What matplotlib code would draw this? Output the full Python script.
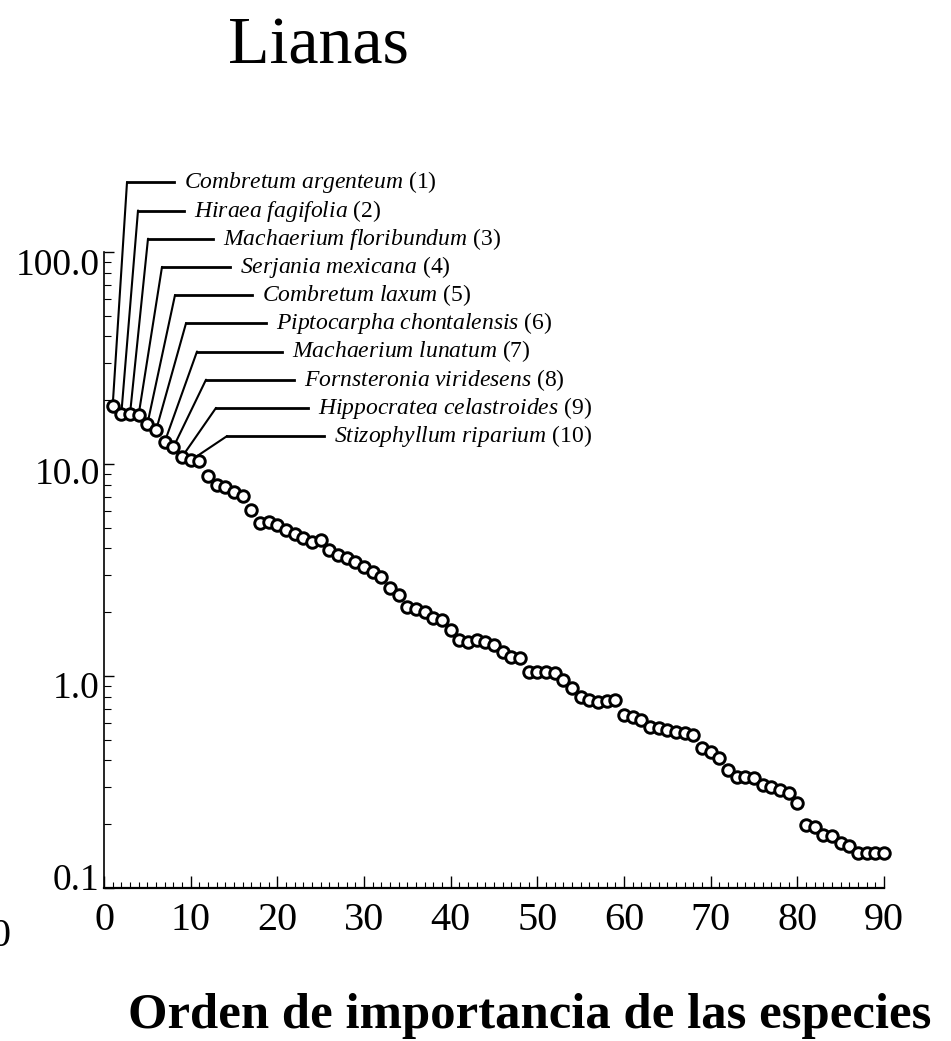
import numpy as np
import matplotlib
matplotlib.use("Agg")
import matplotlib.pyplot as plt
from matplotlib.patches import ConnectionPatch
from matplotlib.ticker import MultipleLocator, LogLocator, NullFormatter
from matplotlib.transforms import ScaledTranslation

plt.rcParams['font.family'] = ['Liberation Serif', 'DejaVu Serif']
plt.rcParams['mathtext.fontset'] = 'custom'
plt.rcParams['mathtext.rm'] = 'Liberation Serif'
plt.rcParams['mathtext.it'] = 'Liberation Serif:italic'

# ---------------------------------------------------------------
# DATOS
# ---------------------------------------------------------------
RANGO = list(range(1, 91))
VALOR = [18.8, 17.3, 17.2, 17.1, 15.4, 14.4, 12.7, 12.0, 10.8, 10.4,
         10.3, 8.8, 8.0, 7.8, 7.35, 7.1, 6.07, 5.29, 5.34, 5.16,
         4.88, 4.68, 4.46, 4.30, 4.38, 3.93, 3.72, 3.59, 3.46, 3.28,
         3.10, 2.92, 2.59, 2.41, 2.12, 2.06, 2.01, 1.87, 1.84, 1.65,
         1.48, 1.45, 1.48, 1.45, 1.40, 1.30, 1.23, 1.21, 1.05, 1.05,
         1.05, 1.03, 0.957, 0.875, 0.80, 0.77, 0.756, 0.76, 0.77, 0.655,
         0.639, 0.62, 0.577, 0.567, 0.556, 0.546, 0.540, 0.527, 0.456, 0.439,
         0.409, 0.360, 0.335, 0.335, 0.329, 0.306, 0.300, 0.290, 0.280, 0.251,
         0.198, 0.195, 0.178, 0.175, 0.163, 0.157, 0.146, 0.146, 0.146, 0.146]

ESPECIES = ["Combretum argenteum", "Hiraea fagifolia", "Machaerium floribundum",
            "Serjania mexicana", "Combretum laxum", "Piptocarpha chontalensis",
            "Machaerium lunatum", "Fornsteronia viridesens",
            "Hippocratea celastroides", "Stizophyllum riparium"]

YTICKS = [0.1, 1.0, 10.0, 100.0]
YTICK_LABELS = ["0.1", "1.0", "10.0", "100.0"]
XTICKS = list(range(0, 100, 10))

# ---------------------------------------------------------------
# LAYOUT (pixeles de la figura)
# ---------------------------------------------------------------
W, H = 951, 1041
LABEL_TOP = 182.3
LABEL_STEP = 28.2
CODO_X = [127, 138, 148, 162, 175, 186, 197, 206, 216, 227]
TEXTO_X = [184, 194, 223, 240, 262, 276, 292, 304, 318, 334]


def fx(px):
    return px / W


def fy(py):
    return 1 - py / H


fig = plt.figure(figsize=(W / 100, H / 100), dpi=100)
ax = fig.add_axes([fx(104), fy(888), 780 / W, 636 / H])

ax.plot(RANGO, VALOR, 'o', ms=8.3, mfc='white', mec='black', mew=2.1,
        zorder=3, clip_on=False)

ax.set_yscale('log')
ax.set_xlim(0, 90)
ax.set_ylim(0.1, 100)

ax.set_xticks(XTICKS)
ax.set_xticklabels([str(t) for t in XTICKS])
ax.xaxis.set_minor_locator(MultipleLocator(1))
ax.set_yticks(YTICKS)
ax.set_yticklabels(YTICK_LABELS)
ax.yaxis.set_minor_locator(LogLocator(base=10, subs=range(2, 10), numticks=20))
ax.yaxis.set_minor_formatter(NullFormatter())

ax.tick_params(axis='x', which='major', direction='in', length=9, width=1,
               labelsize=29, pad=10)
ax.tick_params(axis='x', which='minor', direction='in', length=4.5, width=0.8)
ax.tick_params(axis='y', which='major', direction='in', length=7.5, width=1,
               labelsize=27, pad=3)
ax.tick_params(axis='y', which='minor', direction='in', length=5, width=0.8)

for side in ['top', 'right']:
    ax.spines[side].set_visible(False)
ax.spines['left'].set_linewidth(1.2)
ax.spines['bottom'].set_linewidth(1.6)

# desplazamiento de las etiquetas del eje y
for lbl, dy in zip(ax.get_yticklabels(), [8, -6, -5, -7]):
    lbl.set_transform(lbl.get_transform() +
                      ScaledTranslation(0, dy / 72, fig.dpi_scale_trans))

# ---------------------------------------------------------------
# ETIQUETAS DE LAS 10 ESPECIES MAS IMPORTANTES
# ---------------------------------------------------------------
for i, nombre in enumerate(ESPECIES):
    ly = LABEL_TOP + i * LABEL_STEP
    codo = (fx(CODO_X[i]), fy(ly))
    con = ConnectionPatch(xyA=(RANGO[i], VALOR[i]), coordsA='data', axesA=ax,
                          xyB=codo, coordsB='figure fraction',
                          color='black', lw=1.5, zorder=2)
    ax.add_artist(con)
    ax.plot([codo[0], fx(TEXTO_X[i] - 10)], [codo[1], codo[1]],
            color='black', lw=2.0, transform=fig.transFigure,
            clip_on=False, zorder=2)
    etiqueta = r"$\mathit{" + nombre.replace(" ", r"\ ") + "}$" + f" ({i + 1})"
    fig.text(fx(TEXTO_X[i]), fy(ly), etiqueta, ha='left', va='center',
             fontsize=17)

# ---------------------------------------------------------------
# TITULO Y EJE X
# ---------------------------------------------------------------
fig.text(fx(318), fy(63), "Lianas", ha='center', va='baseline', fontsize=49)
fig.text(fx(530), fy(1028), "Orden de importancia de las especies",
         ha='center', va='baseline', fontsize=36.5, fontweight='bold')
# resto de un texto cortado en el borde izquierdo
fig.text(0.0, fy(937), "0", ha='center', va='center', fontsize=29)

fig.savefig("out.png", dpi=100)
